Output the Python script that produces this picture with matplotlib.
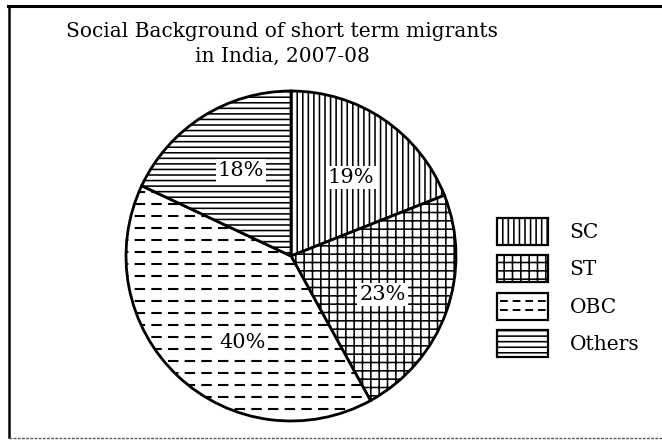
import numpy as np
import matplotlib.pyplot as plt
from matplotlib.patches import Rectangle
from matplotlib.lines import Line2D
from matplotlib.legend_handler import HandlerBase

# data
categories = ["SC", "ST", "OBC", "Others"]
shares = [19, 23, 40, 18]
pct_labels = ["19%", "23%", "40%", "18%"]
title = "Social Background of short term migrants\nin India, 2007-08"

# styling
hatches = ["|||", "++", "", "---"]
dashed = [False, False, True, False]
label_shift = [-3, -3, 14, -2]   # degrees, nudges the % labels like the print
label_r = 0.6

W, H = 662, 442
plt.rcParams["font.family"] = ["DejaVu Serif"]
plt.rcParams["hatch.linewidth"] = 1.15
plt.rcParams["hatch.color"] = "black"


def px(x0, y0, w, h):
    # pixel box (top-left origin) -> figure fraction
    return [x0 / W, 1 - (y0 + h) / H, w / W, h / H]


def dash_fill(ax, patch, step=0.073):
    for y in np.arange(-1, 1, step):
        ln, = ax.plot([-1.05, 1.05], [y, y], color="black", lw=1.5,
                      dashes=(5, 3), solid_capstyle="butt")
        ln.set_clip_path(patch)


class DashedBox(HandlerBase):
    def create_artists(self, legend, orig_handle, xdescent, ydescent,
                       width, height, fontsize, trans):
        x0, y0 = -xdescent, -ydescent
        arts = [Rectangle((x0, y0), width, height, facecolor="white",
                          edgecolor="black", lw=1.6, transform=trans)]
        for f in (0.36, 0.68):
            arts.append(Line2D([x0 + 2, x0 + width - 2], [y0 + f * height] * 2,
                               color="black", lw=1.4, dashes=(4, 2.5),
                               transform=trans))
        return arts


fig = plt.figure(figsize=(W / 100, H / 100), dpi=100)
fig.patch.set_facecolor("white")

ax = fig.add_axes(px(126, 91, 330, 330))
wedges, _ = ax.pie(shares, startangle=90, counterclock=False,
                   colors=["white"] * len(shares),
                   wedgeprops=dict(edgecolor="black", linewidth=2.0))
for w, h, d in zip(wedges, hatches, dashed):
    if h:
        w.set_hatch(h)
    if d:
        dash_fill(ax, w)

for w, lab, sh in zip(wedges, pct_labels, label_shift):
    mid = np.deg2rad((w.theta1 + w.theta2) / 2 + sh)
    ax.text(label_r * np.cos(mid), label_r * np.sin(mid), lab,
            ha="center", va="center", fontsize=15,
            bbox=dict(facecolor="white", edgecolor="none", pad=1.5))
ax.set_xlim(-1.0, 1.0)
ax.set_ylim(-1.0, 1.0)

# title
fig.text(282 / W, 1 - 44 / H, title, ha="center", va="center",
         fontsize=14.5, linespacing=1.35)

# legend
handles = [Rectangle((0, 0), 1, 1, facecolor="white", edgecolor="black",
                     lw=1.6, hatch=h) for h in hatches]
fig.legend(handles, categories, loc="upper left",
           bbox_to_anchor=(497 / W, 1 - 218 / H), frameon=False,
           fontsize=14.5, handlelength=2.55, handleheight=1.7,
           labelspacing=0.5, handletextpad=1.05, borderpad=0,
           borderaxespad=0, handler_map={handles[2]: DashedBox()})

# page frame of the scan
fig.add_artist(Line2D([8 / W, 1], [1 - 6 / H] * 2, color="black", lw=2.2))
fig.add_artist(Line2D([9 / W, 9 / W], [1 - 6 / H, 1 - 437 / H],
                      color="black", lw=1.8))
fig.add_artist(Line2D([9 / W, 1], [1 - 438 / H] * 2, color="0.35",
                      lw=1.0, ls=(0, (2, 1))))

fig.savefig("out.png", dpi=100)
